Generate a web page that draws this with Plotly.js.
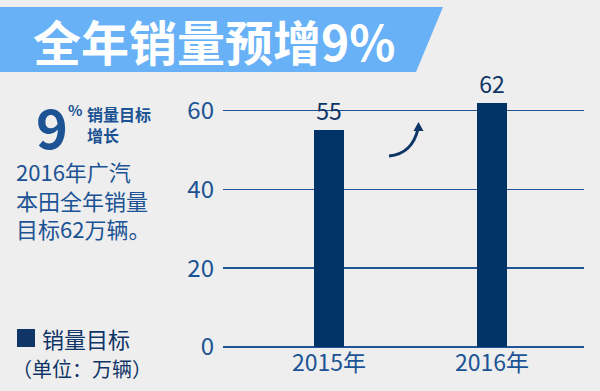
<!DOCTYPE html>
<html><head><meta charset="utf-8">
<script src="https://cdn.plot.ly/plotly-3.0.1.min.js"></script>
<style>html,body{margin:0;padding:0;background:#eeeeee;}#c{width:600px;height:391px;}</style>
</head><body><div id="c"></div>
<script>
const years = ['2015年', '2016年'];
const sales = [55, 62];
const barLabels = ['55', '62'];
const yTicks = [0, 20, 40, 60];

const W = 600, Hh = 391;
const M = {l: 223, r: 16, t: 71, b: 44};
const PW = W - M.l - M.r, PH = Hh - M.t - M.b;
const px = X => (X - M.l) / PW;
const py = Y => (Hh - M.b - Y) / PH;

const FONT = '"Noto Sans CJK SC", "Noto Sans", sans-serif';
const BLUE = '#1b5394';
const NAVY = '#0f3466';

function pathPx(pts) {
  return pts.map(p => p[0] + ' ' + p.slice(1).reduce((a, v, i) => {
    a.push(i % 2 === 0 ? px(v) : py(v)); return a; }, []).join(' ')).join(' ');
}

const trace = {
  type: 'bar', x: years, y: sales, text: barLabels,
  textposition: 'outside', cliponaxis: false,
  textfont: {family: FONT, size: 23, color: NAVY},
  marker: {color: '#003366'}, width: 0.184, hoverinfo: 'none'
};

const shapes = [
  {type: 'path', xref: 'paper', yref: 'paper', layer: 'below',
   path: pathPx([['M', 0, 7], ['L', 443, 7], ['L', 416, 72], ['L', 0, 72]]) + ' Z',
   fillcolor: '#68b1f7', line: {width: 0}},
  {type: 'rect', xref: 'paper', yref: 'paper',
   x0: px(17), x1: px(35), y0: py(347), y1: py(329),
   fillcolor: NAVY, line: {width: 0}},
  {type: 'path', xref: 'paper', yref: 'paper',
   path: pathPx([['M', 389, 156], ['Q', 412, 154, 418, 129]]),
   line: {color: NAVY, width: 3}},
  {type: 'path', xref: 'paper', yref: 'paper',
   path: pathPx([['M', 418.5, 122], ['L', 423.5, 131], ['L', 413.5, 131]]) + ' Z',
   fillcolor: NAVY, line: {width: 0}}
];

function ann(text, X, Y, size, color, bold, align) {
  return {xref: 'paper', yref: 'paper', x: px(X), y: py(Y), text: text,
    showarrow: false, xanchor: 'left', yanchor: 'middle', align: align || 'left',
    font: {family: FONT, size: size, color: color, weight: bold ? 'bold' : 'normal'}};
}

const annotations = [
  ann('全年销量预增9%', 31, 40, 48, '#ffffff', true),
  ann('9', 34, 125, 54, BLUE, true),
  ann('%', 66, 110, 15, BLUE, true),
  ann('销量目标<br>增长', 85, 124, 16, BLUE, true),
  ann('2016年广汽<br>本田全年销量<br>目标62万辆。', 14, 199, 22, BLUE, false),
  ann('销量目标', 40, 338, 22, NAVY, false),
  ann('（单位：万辆）', 10, 368, 20, NAVY, false)
];

const layout = {
  width: W, height: Hh, margin: M,
  paper_bgcolor: '#eeeeee', plot_bgcolor: '#eeeeee',
  showlegend: false, bargap: 0,
  font: {family: FONT},
  xaxis: {type: 'category', range: [-0.65, 1.564], showgrid: false, showline: false,
    zeroline: false, ticks: '', tickfont: {family: FONT, size: 23, color: BLUE}, fixedrange: true},
  yaxis: {range: [0, 70], tickvals: yTicks, ticktext: yTicks.map(String),
    showgrid: true, gridcolor: '#1f5596', gridwidth: 1.5,
    zeroline: true, zerolinecolor: '#1f5596', zerolinewidth: 1.5,
    showline: false, ticks: '', ticklabelstandoff: 8,
    tickfont: {family: FONT, size: 24, color: BLUE}, fixedrange: true},
  shapes: shapes, annotations: annotations
};

Plotly.newPlot('c', [trace], layout, {displayModeBar: false, staticPlot: true});
</script></body></html>
